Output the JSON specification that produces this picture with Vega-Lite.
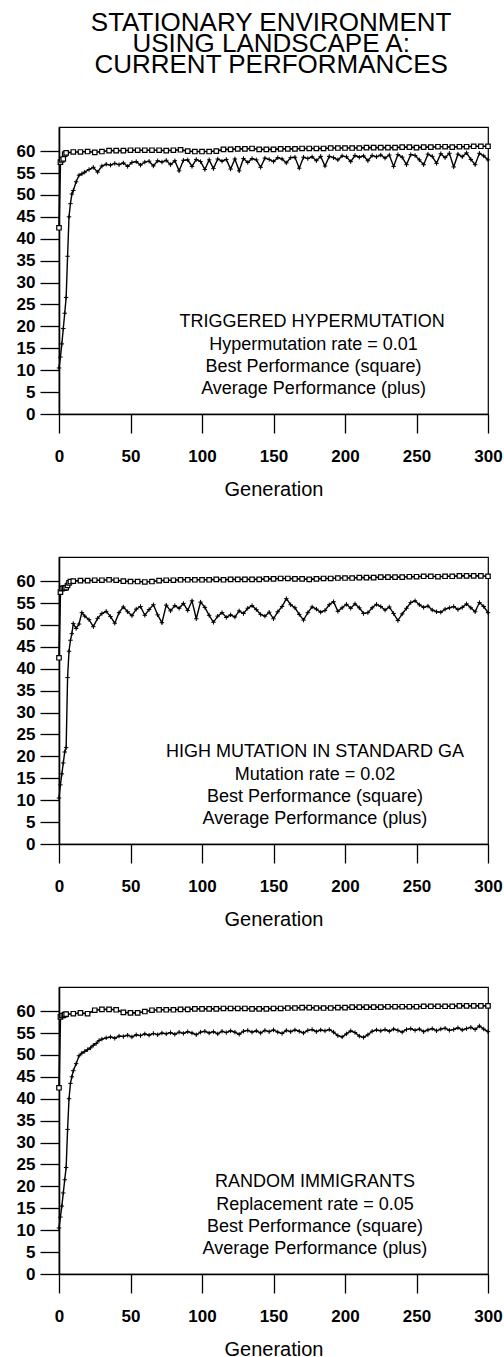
{
"$schema":"https://vega.github.io/schema/vega-lite/v6.json",
"padding":{"left":15,"top":10,"right":0,"bottom":0},
"background":"#ffffff",
"title":{"text":["STATIONARY ENVIRONMENT","USING LANDSCAPE A:","CURRENT PERFORMANCES"],"fontSize":26,"fontWeight":"normal","font":"Liberation Sans","lineHeight":21,"anchor":"middle","dx":12,"offset":48,"color":"#000"},
"config":{
"font":"Liberation Sans",
"view":{"stroke":"#000","strokeWidth":1.2},
"concat":{"spacing":56},
"axis":{"labelFont":"Liberation Sans","labelFontSize":17,"labelFontWeight":"bold","labelColor":"#000","tickColor":"#000","domainColor":"#000","tickSize":19,"tickWidth":1.3,"domainWidth":1.6,"grid":false,"titleFont":"Liberation Sans","titleFontSize":20,"titleFontWeight":"normal","titleColor":"#000"},
"axisX":{"labelPadding":15,"titlePadding":15,"labelFlush":false},
"axisY":{"labelPadding":5}
},
"datasets":{
"a1":[{"g":0,"v":10.5},{"g":1,"v":13},{"g":2,"v":16},{"g":3,"v":19.5},{"g":4,"v":23},{"g":5,"v":26.6},{"g":6,"v":36},{"g":7,"v":45},{"g":8,"v":48},{"g":9,"v":50.2},{"g":10,"v":51},{"g":12,"v":53},{"g":14,"v":54.5},{"g":16,"v":54.8},{"g":18,"v":55.2},{"g":21,"v":55.8},{"g":24,"v":56.3},{"g":27,"v":55.2},{"g":30,"v":56.6},{"g":33,"v":57.0},{"g":36,"v":56.8},{"g":39,"v":57.2},{"g":42,"v":56.9},{"g":45,"v":57.3},{"g":48,"v":56.5},{"g":51,"v":57.4},{"g":54,"v":57.6},{"g":57,"v":56.8},{"g":60,"v":57.5},{"g":63,"v":57.7},{"g":66,"v":56.6},{"g":69,"v":57.8},{"g":72,"v":57.5},{"g":75,"v":57.9},{"g":78,"v":56.9},{"g":81,"v":57.8},{"g":84,"v":55.5},{"g":87,"v":57.9},{"g":90,"v":58.0},{"g":93,"v":56.5},{"g":96,"v":58.1},{"g":99,"v":57.6},{"g":102,"v":55.8},{"g":105,"v":58.0},{"g":108,"v":56.0},{"g":111,"v":58.2},{"g":114,"v":57.7},{"g":117,"v":58.1},{"g":120,"v":55.9},{"g":123,"v":58.2},{"g":126,"v":55.5},{"g":129,"v":58.3},{"g":132,"v":57.4},{"g":135,"v":58.3},{"g":138,"v":58.0},{"g":141,"v":56.3},{"g":144,"v":58.4},{"g":147,"v":58.1},{"g":150,"v":57.6},{"g":153,"v":58.5},{"g":156,"v":58.2},{"g":159,"v":57.3},{"g":162,"v":58.5},{"g":165,"v":58.6},{"g":168,"v":56.1},{"g":171,"v":58.6},{"g":174,"v":58.3},{"g":177,"v":58.7},{"g":180,"v":57.8},{"g":183,"v":58.8},{"g":186,"v":56.6},{"g":189,"v":58.8},{"g":192,"v":58.5},{"g":195,"v":58.0},{"g":198,"v":58.9},{"g":201,"v":58.7},{"g":204,"v":57.6},{"g":207,"v":59.0},{"g":210,"v":58.6},{"g":213,"v":58.9},{"g":216,"v":57.8},{"g":219,"v":59.0},{"g":222,"v":58.7},{"g":225,"v":59.1},{"g":228,"v":58.4},{"g":231,"v":59.1},{"g":234,"v":56.5},{"g":237,"v":59.2},{"g":240,"v":58.6},{"g":243,"v":56.9},{"g":246,"v":59.2},{"g":249,"v":59.0},{"g":252,"v":58.0},{"g":255,"v":56.9},{"g":258,"v":59.3},{"g":261,"v":58.8},{"g":264,"v":57.2},{"g":267,"v":59.4},{"g":270,"v":58.5},{"g":273,"v":59.5},{"g":276,"v":56.4},{"g":279,"v":59.3},{"g":282,"v":58.7},{"g":285,"v":59.6},{"g":288,"v":58.1},{"g":291,"v":56.9},{"g":294,"v":59.5},{"g":297,"v":58.9},{"g":300,"v":58.0}],
"b1":[{"g":0,"v":42.5},{"g":1,"v":57.5},{"g":2,"v":58.0},{"g":3,"v":58.2},{"g":4,"v":59.3},{"g":5,"v":59.6},{"g":10,"v":59.8},{"g":15,"v":59.8},{"g":20,"v":59.9},{"g":25,"v":59.7},{"g":30,"v":59.9},{"g":35,"v":60.1},{"g":40,"v":60.1},{"g":45,"v":60.1},{"g":50,"v":60.2},{"g":55,"v":60.2},{"g":60,"v":60.2},{"g":65,"v":60.2},{"g":70,"v":60.2},{"g":75,"v":60.1},{"g":80,"v":60.2},{"g":85,"v":60.3},{"g":90,"v":60.0},{"g":95,"v":59.9},{"g":100,"v":59.9},{"g":105,"v":59.9},{"g":110,"v":60.0},{"g":115,"v":60.4},{"g":120,"v":60.4},{"g":125,"v":60.5},{"g":130,"v":60.5},{"g":135,"v":60.6},{"g":140,"v":60.4},{"g":145,"v":60.4},{"g":150,"v":60.4},{"g":155,"v":60.5},{"g":160,"v":60.5},{"g":165,"v":60.5},{"g":170,"v":60.6},{"g":175,"v":60.6},{"g":180,"v":60.6},{"g":185,"v":60.6},{"g":190,"v":60.7},{"g":195,"v":60.7},{"g":200,"v":60.7},{"g":205,"v":60.7},{"g":210,"v":60.7},{"g":215,"v":60.8},{"g":220,"v":60.8},{"g":225,"v":60.8},{"g":230,"v":60.8},{"g":235,"v":60.8},{"g":240,"v":60.9},{"g":245,"v":60.9},{"g":250,"v":60.8},{"g":255,"v":60.9},{"g":260,"v":60.9},{"g":265,"v":61.0},{"g":270,"v":61.0},{"g":275,"v":60.9},{"g":280,"v":61.0},{"g":285,"v":61.0},{"g":290,"v":61.1},{"g":295,"v":61.1},{"g":300,"v":61.1}],
"a2":[{"g":0,"v":10.5},{"g":1,"v":13.5},{"g":2,"v":16},{"g":3,"v":18.5},{"g":4,"v":21},{"g":5,"v":22},{"g":6,"v":38},{"g":7,"v":44},{"g":8,"v":46.5},{"g":9,"v":48},{"g":10,"v":50.3},{"g":12,"v":49.2},{"g":14,"v":50.2},{"g":16,"v":52.8},{"g":18,"v":52.0},{"g":21,"v":51.2},{"g":24,"v":49.6},{"g":27,"v":51.5},{"g":30,"v":52.6},{"g":33,"v":53.1},{"g":36,"v":51.9},{"g":39,"v":50.4},{"g":42,"v":52.8},{"g":45,"v":54.1},{"g":48,"v":53.0},{"g":51,"v":52.1},{"g":54,"v":53.6},{"g":57,"v":54.2},{"g":60,"v":52.2},{"g":63,"v":53.5},{"g":66,"v":54.6},{"g":69,"v":52.3},{"g":72,"v":50.5},{"g":75,"v":54.5},{"g":78,"v":53.2},{"g":81,"v":54.4},{"g":84,"v":53.8},{"g":87,"v":54.9},{"g":90,"v":53.3},{"g":93,"v":55.5},{"g":96,"v":51.4},{"g":99,"v":55.2},{"g":102,"v":54.0},{"g":105,"v":52.2},{"g":108,"v":50.6},{"g":111,"v":52.0},{"g":114,"v":52.8},{"g":117,"v":51.7},{"g":120,"v":52.3},{"g":123,"v":51.8},{"g":126,"v":53.2},{"g":129,"v":52.6},{"g":132,"v":53.8},{"g":135,"v":54.4},{"g":138,"v":53.5},{"g":141,"v":52.4},{"g":144,"v":52.0},{"g":147,"v":52.9},{"g":150,"v":51.4},{"g":153,"v":53.0},{"g":156,"v":54.2},{"g":159,"v":56.0},{"g":162,"v":54.6},{"g":165,"v":53.9},{"g":168,"v":52.4},{"g":171,"v":51.1},{"g":174,"v":52.8},{"g":177,"v":54.1},{"g":180,"v":53.6},{"g":183,"v":52.9},{"g":186,"v":53.3},{"g":189,"v":54.6},{"g":192,"v":55.3},{"g":195,"v":53.1},{"g":198,"v":53.9},{"g":201,"v":54.7},{"g":204,"v":53.8},{"g":207,"v":54.8},{"g":210,"v":53.9},{"g":213,"v":52.6},{"g":216,"v":52.8},{"g":219,"v":53.9},{"g":222,"v":54.7},{"g":225,"v":54.2},{"g":228,"v":53.4},{"g":231,"v":54.1},{"g":234,"v":52.6},{"g":237,"v":51.0},{"g":240,"v":52.5},{"g":243,"v":53.8},{"g":246,"v":55.1},{"g":249,"v":55.5},{"g":252,"v":54.6},{"g":255,"v":54.0},{"g":258,"v":54.3},{"g":261,"v":53.4},{"g":264,"v":53.0},{"g":267,"v":52.9},{"g":270,"v":53.6},{"g":273,"v":53.9},{"g":276,"v":54.2},{"g":279,"v":53.5},{"g":282,"v":54.0},{"g":285,"v":54.8},{"g":288,"v":53.9},{"g":291,"v":53.0},{"g":294,"v":55.1},{"g":297,"v":54.2},{"g":300,"v":52.8}],
"b2":[{"g":0,"v":42.5},{"g":1,"v":57.5},{"g":2,"v":58.3},{"g":3,"v":58.4},{"g":4,"v":58.4},{"g":5,"v":58.5},{"g":6,"v":59.0},{"g":7,"v":59.6},{"g":8,"v":59.9},{"g":10,"v":60.0},{"g":15,"v":60.1},{"g":20,"v":60.1},{"g":25,"v":60.2},{"g":30,"v":60.2},{"g":35,"v":60.3},{"g":40,"v":60.2},{"g":45,"v":60.0},{"g":50,"v":59.9},{"g":55,"v":59.9},{"g":60,"v":59.8},{"g":65,"v":59.9},{"g":70,"v":60.1},{"g":75,"v":60.2},{"g":80,"v":60.2},{"g":85,"v":60.3},{"g":90,"v":60.3},{"g":95,"v":60.3},{"g":100,"v":60.3},{"g":105,"v":60.3},{"g":110,"v":60.4},{"g":115,"v":60.3},{"g":120,"v":60.4},{"g":125,"v":60.4},{"g":130,"v":60.4},{"g":135,"v":60.4},{"g":140,"v":60.4},{"g":145,"v":60.5},{"g":150,"v":60.5},{"g":155,"v":60.6},{"g":160,"v":60.6},{"g":165,"v":60.5},{"g":170,"v":60.5},{"g":175,"v":60.4},{"g":180,"v":60.5},{"g":185,"v":60.6},{"g":190,"v":60.6},{"g":195,"v":60.7},{"g":200,"v":60.7},{"g":205,"v":60.7},{"g":210,"v":60.8},{"g":215,"v":60.8},{"g":220,"v":60.8},{"g":225,"v":60.9},{"g":230,"v":60.9},{"g":235,"v":60.9},{"g":240,"v":60.9},{"g":245,"v":61.0},{"g":250,"v":61.0},{"g":255,"v":61.1},{"g":260,"v":61.1},{"g":265,"v":61.0},{"g":270,"v":61.1},{"g":275,"v":61.1},{"g":280,"v":61.2},{"g":285,"v":61.2},{"g":290,"v":61.2},{"g":295,"v":61.2},{"g":300,"v":61.1}],
"a3":[{"g":0,"v":10.5},{"g":1,"v":13},{"g":2,"v":15.5},{"g":3,"v":18.5},{"g":4,"v":21.5},{"g":5,"v":24.3},{"g":6,"v":33},{"g":7,"v":40},{"g":8,"v":43.5},{"g":9,"v":45},{"g":10,"v":46.4},{"g":12,"v":48},{"g":14,"v":49.8},{"g":16,"v":50.4},{"g":18,"v":50.8},{"g":20,"v":51.2},{"g":22,"v":51.6},{"g":24,"v":52.2},{"g":26,"v":52.6},{"g":28,"v":53.3},{"g":30,"v":53.6},{"g":33,"v":53.9},{"g":36,"v":54.1},{"g":39,"v":53.8},{"g":42,"v":54.3},{"g":45,"v":54.2},{"g":48,"v":54.5},{"g":51,"v":54.1},{"g":54,"v":54.6},{"g":57,"v":54.4},{"g":60,"v":54.8},{"g":63,"v":54.5},{"g":66,"v":54.9},{"g":69,"v":54.6},{"g":72,"v":55.0},{"g":75,"v":54.8},{"g":78,"v":55.1},{"g":81,"v":54.7},{"g":84,"v":55.2},{"g":87,"v":54.9},{"g":90,"v":55.3},{"g":93,"v":55.0},{"g":96,"v":54.6},{"g":99,"v":55.2},{"g":102,"v":55.4},{"g":105,"v":55.0},{"g":108,"v":55.3},{"g":111,"v":54.8},{"g":114,"v":55.4},{"g":117,"v":55.1},{"g":120,"v":55.5},{"g":123,"v":55.2},{"g":126,"v":54.7},{"g":129,"v":55.4},{"g":132,"v":55.6},{"g":135,"v":55.2},{"g":138,"v":55.5},{"g":141,"v":55.0},{"g":144,"v":55.6},{"g":147,"v":55.3},{"g":150,"v":55.7},{"g":153,"v":55.2},{"g":156,"v":54.9},{"g":159,"v":55.6},{"g":162,"v":55.3},{"g":165,"v":55.7},{"g":168,"v":55.4},{"g":171,"v":55.0},{"g":174,"v":55.6},{"g":177,"v":55.8},{"g":180,"v":55.3},{"g":183,"v":55.7},{"g":186,"v":55.5},{"g":189,"v":55.8},{"g":192,"v":55.2},{"g":195,"v":54.4},{"g":198,"v":54.1},{"g":201,"v":54.8},{"g":204,"v":55.5},{"g":207,"v":55.1},{"g":210,"v":54.3},{"g":213,"v":54.0},{"g":216,"v":54.6},{"g":219,"v":55.4},{"g":222,"v":55.7},{"g":225,"v":55.5},{"g":228,"v":55.8},{"g":231,"v":55.4},{"g":234,"v":55.9},{"g":237,"v":55.6},{"g":240,"v":55.2},{"g":243,"v":55.8},{"g":246,"v":56.0},{"g":249,"v":55.6},{"g":252,"v":55.9},{"g":255,"v":55.3},{"g":258,"v":55.7},{"g":261,"v":56.0},{"g":264,"v":55.5},{"g":267,"v":55.9},{"g":270,"v":56.1},{"g":273,"v":55.6},{"g":276,"v":55.8},{"g":279,"v":56.2},{"g":282,"v":55.7},{"g":285,"v":56.0},{"g":288,"v":56.3},{"g":291,"v":55.8},{"g":294,"v":56.6},{"g":297,"v":55.9},{"g":300,"v":55.3}],
"b3":[{"g":0,"v":42.5},{"g":1,"v":58.7},{"g":2,"v":59.0},{"g":3,"v":59.0},{"g":4,"v":59.2},{"g":5,"v":59.3},{"g":10,"v":59.4},{"g":15,"v":59.6},{"g":20,"v":59.4},{"g":25,"v":60.2},{"g":30,"v":60.4},{"g":35,"v":60.4},{"g":40,"v":60.3},{"g":45,"v":59.7},{"g":50,"v":59.6},{"g":55,"v":59.6},{"g":60,"v":59.9},{"g":65,"v":60.2},{"g":70,"v":60.3},{"g":75,"v":60.3},{"g":80,"v":60.3},{"g":85,"v":60.4},{"g":90,"v":60.4},{"g":95,"v":60.5},{"g":100,"v":60.5},{"g":105,"v":60.5},{"g":110,"v":60.5},{"g":115,"v":60.6},{"g":120,"v":60.6},{"g":125,"v":60.6},{"g":130,"v":60.6},{"g":135,"v":60.5},{"g":140,"v":60.5},{"g":145,"v":60.5},{"g":150,"v":60.6},{"g":155,"v":60.6},{"g":160,"v":60.7},{"g":165,"v":60.7},{"g":170,"v":60.8},{"g":175,"v":60.8},{"g":180,"v":60.7},{"g":185,"v":60.7},{"g":190,"v":60.7},{"g":195,"v":60.8},{"g":200,"v":60.8},{"g":205,"v":60.9},{"g":210,"v":60.9},{"g":215,"v":60.9},{"g":220,"v":60.9},{"g":225,"v":60.9},{"g":230,"v":61.0},{"g":235,"v":61.0},{"g":240,"v":61.0},{"g":245,"v":61.0},{"g":250,"v":61.0},{"g":255,"v":61.1},{"g":260,"v":61.1},{"g":265,"v":61.1},{"g":270,"v":61.1},{"g":275,"v":61.1},{"g":280,"v":61.2},{"g":285,"v":61.2},{"g":290,"v":61.2},{"g":295,"v":61.2},{"g":300,"v":61.2}]
},
"vconcat":[
{"width":429,"height":287,
"encoding":{"x":{"field":"g","type":"quantitative","scale":{"domain":[0,300],"nice":false,"zero":false},"axis":{"values":[0,50,100,150,200,250,300]},"title":"Generation"},"y":{"field":"v","type":"quantitative","scale":{"domain":[0,65.5],"nice":false},"axis":{"values":[0,5,10,15,20,25,30,35,40,45,50,55,60]},"title":null}},
"layer":[
{"data":{"name":"a1"},"mark":{"type":"line","color":"#000","strokeWidth":1.4}},
{"data":{"name":"a1"},"mark":{"type":"point","shape":"M-1,0L1,0M0,-1L0,1","size":20,"filled":false,"color":"#000","strokeWidth":1,"opacity":1}},
{"data":{"name":"b1"},"mark":{"type":"line","color":"#000","strokeWidth":1.6}},
{"data":{"name":"b1"},"mark":{"type":"point","shape":"square","size":20,"filled":true,"fill":"#fff","stroke":"#000","strokeWidth":1.2,"opacity":1}},
{"data":{"values":[{"g":177,"v":20.9,"t":"TRIGGERED HYPERMUTATION"},{"g":178,"v":15.8,"t":"Hypermutation rate = 0.01"},{"g":178,"v":10.8,"t":"Best Performance (square)"},{"g":178,"v":5.8,"t":"Average Performance (plus)"}]},"mark":{"type":"text","font":"Liberation Sans","fontSize":18,"color":"#000","align":"center","baseline":"middle"},"encoding":{"text":{"field":"t"}}}
]},
{"width":429,"height":287,
"encoding":{"x":{"field":"g","type":"quantitative","scale":{"domain":[0,300],"nice":false,"zero":false},"axis":{"values":[0,50,100,150,200,250,300]},"title":"Generation"},"y":{"field":"v","type":"quantitative","scale":{"domain":[0,65.5],"nice":false},"axis":{"values":[0,5,10,15,20,25,30,35,40,45,50,55,60]},"title":null}},
"layer":[
{"data":{"name":"a2"},"mark":{"type":"line","color":"#000","strokeWidth":1.4}},
{"data":{"name":"a2"},"mark":{"type":"point","shape":"M-1,0L1,0M0,-1L0,1","size":20,"filled":false,"color":"#000","strokeWidth":1,"opacity":1}},
{"data":{"name":"b2"},"mark":{"type":"line","color":"#000","strokeWidth":1.6}},
{"data":{"name":"b2"},"mark":{"type":"point","shape":"square","size":20,"filled":true,"fill":"#fff","stroke":"#000","strokeWidth":1.2,"opacity":1}},
{"data":{"values":[{"g":179,"v":20.9,"t":"HIGH MUTATION IN STANDARD GA"},{"g":179,"v":15.8,"t":"Mutation rate = 0.02"},{"g":179,"v":10.8,"t":"Best Performance (square)"},{"g":179,"v":5.8,"t":"Average Performance (plus)"}]},"mark":{"type":"text","font":"Liberation Sans","fontSize":18,"color":"#000","align":"center","baseline":"middle"},"encoding":{"text":{"field":"t"}}}
]},
{"width":429,"height":287,
"encoding":{"x":{"field":"g","type":"quantitative","scale":{"domain":[0,300],"nice":false,"zero":false},"axis":{"values":[0,50,100,150,200,250,300]},"title":"Generation"},"y":{"field":"v","type":"quantitative","scale":{"domain":[0,65.5],"nice":false},"axis":{"values":[0,5,10,15,20,25,30,35,40,45,50,55,60]},"title":null}},
"layer":[
{"data":{"name":"a3"},"mark":{"type":"line","color":"#000","strokeWidth":1.4}},
{"data":{"name":"a3"},"mark":{"type":"point","shape":"M-1,0L1,0M0,-1L0,1","size":20,"filled":false,"color":"#000","strokeWidth":1,"opacity":1}},
{"data":{"name":"b3"},"mark":{"type":"line","color":"#000","strokeWidth":1.6}},
{"data":{"name":"b3"},"mark":{"type":"point","shape":"square","size":20,"filled":true,"fill":"#fff","stroke":"#000","strokeWidth":1.2,"opacity":1}},
{"data":{"values":[{"g":179,"v":20.9,"t":"RANDOM IMMIGRANTS"},{"g":179,"v":15.8,"t":"Replacement rate = 0.05"},{"g":179,"v":10.8,"t":"Best Performance (square)"},{"g":179,"v":5.8,"t":"Average Performance (plus)"}]},"mark":{"type":"text","font":"Liberation Sans","fontSize":18,"color":"#000","align":"center","baseline":"middle"},"encoding":{"text":{"field":"t"}}}
]}
]
}
